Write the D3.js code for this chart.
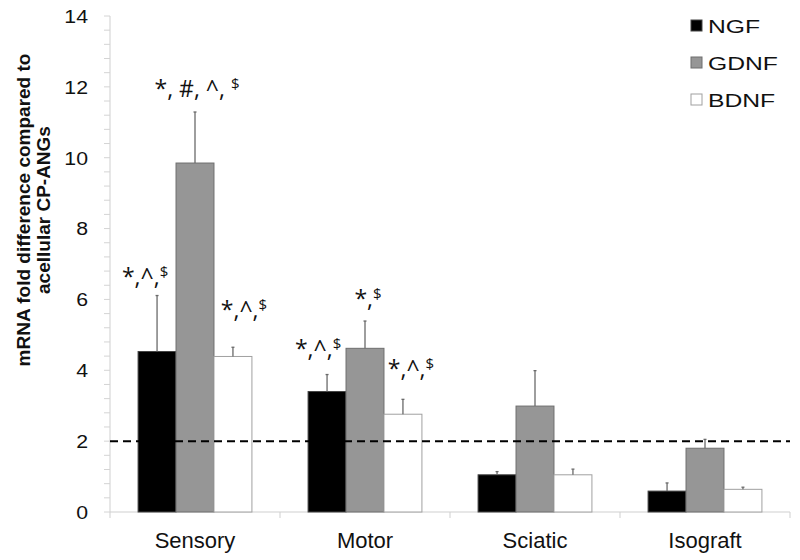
<!DOCTYPE html>
<html>
<head>
<meta charset="utf-8">
<script src="https://cdn.jsdelivr.net/npm/d3@7"></script>
<style>
  body { margin: 0; background: #fff; }
  svg { display: block; }
</style>
</head>
<body>
<script>
// data
var categories = ["Sensory", "Motor", "Sciatic", "Isograft"];
var series = ["NGF", "GDNF", "BDNF"];
var ngfValues  = [4.53, 3.40, 1.05, 0.59];
var gdnfValues = [9.85, 4.62, 2.99, 1.80];
var bdnfValues = [4.39, 2.76, 1.05, 0.64];
var ngfErr  = [1.58, 0.48, 0.09, 0.23];
var gdnfErr = [1.44, 0.77, 1.00, 0.25];
var bdnfErr = [0.26, 0.42, 0.16, 0.06];
var yTicks = [0, 2, 4, 6, 8, 10, 12, 14];
var threshold = 2;
// significance labels: [main text, superscript]
var notes = [
    [["*,^,", "$"], ["*, #, ^, ", "$"], ["*,^,", "$"]],
    [["*,^,", "$"], ["*,", "$"], ["*,^,", "$"]],
    [null, null, null],
    [null, null, null]
];

var width = 800, height = 560;
var margin = {top: 16, right: 10, bottom: 48, left: 110};

var svg = d3.select("body").append("svg")
    .attr("width", width)
    .attr("height", height);

var x0 = d3.scaleBand()
    .domain(categories)
    .range([margin.left, 790])
    .paddingInner(0)
    .paddingOuter(0);

var x1 = d3.scaleBand()
    .domain(series)
    .range([0, x0.bandwidth()])
    .paddingOuter(0.74)
    .paddingInner(0);

var y = d3.scaleLinear()
    .domain([0, 14])
    .range([512, margin.top]);

var fills = {NGF: "#000000", GDNF: "#969696", BDNF: "#ffffff"};
var strokes = {NGF: "#444444", GDNF: "#6e6e6e", BDNF: "#a0a0a0"};
var vals = {NGF: ngfValues, GDNF: gdnfValues, BDNF: bdnfValues};
var errs = {NGF: ngfErr, GDNF: gdnfErr, BDNF: bdnfErr};

// y axis with minor ticks
var yAxis = svg.append("g")
    .attr("transform", "translate(" + margin.left + ",0)");
yAxis.append("line")
    .attr("x1", 0).attr("x2", 0)
    .attr("y1", y(0)).attr("y2", y(14))
    .attr("stroke", "#cfcfcf");
yAxis.selectAll(".minor")
    .data(d3.range(0, 14.01, 0.4))
    .enter().append("line")
    .attr("x1", -6).attr("x2", 0)
    .attr("y1", function(d) { return y(d); })
    .attr("y2", function(d) { return y(d); })
    .attr("stroke", "#d4d4d4");
yAxis.selectAll(".lbl")
    .data(yTicks)
    .enter().append("text")
    .attr("transform", function(d) { return "translate(-22," + y(d) + ") scale(1.12,1)"; })
    .attr("dy", "0.36em")
    .attr("text-anchor", "end")
    .attr("font-family", "Liberation Sans, Arial, sans-serif")
    .attr("font-size", 19)
    .attr("fill", "#111")
    .text(function(d) { return d; });

// x axis
svg.append("line")
    .attr("x1", margin.left).attr("x2", 790)
    .attr("y1", y(0)).attr("y2", y(0))
    .attr("stroke", "#cfcfcf");
svg.selectAll(".xtick")
    .data(categories.concat(["end"]))
    .enter().append("line")
    .attr("x1", function(d, i) { return margin.left + i * x0.bandwidth(); })
    .attr("x2", function(d, i) { return margin.left + i * x0.bandwidth(); })
    .attr("y1", y(0)).attr("y2", y(0) + 6)
    .attr("stroke", "#cfcfcf");
svg.selectAll(".xlbl")
    .data(categories)
    .enter().append("text")
    .attr("x", function(d) { return x0(d) + x0.bandwidth() / 2; })
    .attr("y", 548)
    .attr("text-anchor", "middle")
    .attr("font-family", "Liberation Sans, Arial, sans-serif")
    .attr("font-size", 22)
    .attr("fill", "#111")
    .text(function(d) { return d; });

// bars
var groups = svg.selectAll(".grp")
    .data(categories)
    .enter().append("g")
    .attr("transform", function(d) { return "translate(" + x0(d) + ",0)"; });

groups.each(function(cat, ci) {
    var g = d3.select(this);
    var rows = series.map(function(s) {
        return {s: s, v: vals[s][ci], e: errs[s][ci]};
    });
    g.selectAll("rect")
        .data(rows)
        .enter().append("rect")
        .attr("x", function(d) { return x1(d.s); })
        .attr("y", function(d) { return y(d.v); })
        .attr("width", x1.bandwidth())
        .attr("height", function(d) { return y(0) - y(d.v); })
        .attr("fill", function(d) { return fills[d.s]; })
        .attr("stroke", function(d) { return strokes[d.s]; })
        .attr("stroke-width", 1);
    g.selectAll(".err")
        .data(rows)
        .enter().append("line")
        .attr("x1", function(d) { return x1(d.s) + x1.bandwidth() / 2; })
        .attr("x2", function(d) { return x1(d.s) + x1.bandwidth() / 2; })
        .attr("y1", function(d) { return y(d.v); })
        .attr("y2", function(d) { return y(d.v + d.e); })
        .attr("stroke", "#6a6a6a")
        .attr("stroke-width", 1.3);
    g.selectAll(".cap")
        .data(rows)
        .enter().append("line")
        .attr("x1", function(d) { return x1(d.s) + x1.bandwidth() / 2 - 1.5; })
        .attr("x2", function(d) { return x1(d.s) + x1.bandwidth() / 2 + 1.5; })
        .attr("y1", function(d) { return y(d.v + d.e); })
        .attr("y2", function(d) { return y(d.v + d.e); })
        .attr("stroke", "#6a6a6a")
        .attr("stroke-width", 1.3);
});

// threshold line
svg.append("line")
    .attr("x1", margin.left).attr("x2", 790)
    .attr("y1", y(threshold)).attr("y2", y(threshold))
    .attr("stroke", "#000")
    .attr("stroke-width", 2)
    .attr("stroke-dasharray", "8,5");

// significance notes: offsets from the top of each error bar
var noteOffsets = {
    "0-0": {dx: -12, dy: -11}, "0-1": {dx: 2, dy: -15}, "0-2": {dx: 11, dy: -29},
    "1-0": {dx: -9, dy: -18}, "1-1": {dx: 3, dy: -14}, "1-2": {dx: 8, dy: -22}
};
categories.forEach(function(cat, ci) {
    series.forEach(function(s, si) {
        var n = notes[ci][si];
        if (!n) return;
        var off = noteOffsets[ci + "-" + si];
        var cx = x0(cat) + x1(s) + x1.bandwidth() / 2 + off.dx;
        var t = svg.append("text")
            .attr("x", cx)
            .attr("y", y(vals[s][ci] + errs[s][ci]) + off.dy)
            .attr("text-anchor", "middle")
            .attr("font-family", "Open Sans, DejaVu Sans, sans-serif")
            .attr("font-size", 23)
            .attr("fill", "#111");
        t.append("tspan").text(n[0]);
        t.append("tspan")
            .attr("font-size", 15)
            .attr("dy", -8)
            .text(n[1]);
    });
});

// legend
var legend = svg.append("g")
    .attr("transform", "translate(691,20)");
legend.selectAll("rect")
    .data(series)
    .enter().append("rect")
    .attr("x", 0)
    .attr("y", function(d, i) { return i * 37; })
    .attr("width", 11).attr("height", 11)
    .attr("fill", function(d) { return fills[d]; })
    .attr("stroke", function(d) { return strokes[d]; });
legend.selectAll("text")
    .data(series)
    .enter().append("text")
    .attr("transform", function(d, i) { return "translate(17," + (i * 37 + 13) + ") scale(1.3,1)"; })
    .attr("font-family", "Liberation Sans, Arial, sans-serif")
    .attr("font-size", 19)
    .attr("fill", "#111")
    .text(function(d) { return d; });

// y axis title
var title = svg.append("text")
    .attr("transform", "translate(0,210) rotate(-90)")
    .attr("text-anchor", "middle")
    .attr("font-family", "Liberation Sans, Arial, sans-serif")
    .attr("font-weight", "bold")
    .attr("font-size", 19)
    .attr("fill", "#111");
title.append("tspan").attr("x", 0).attr("y", 30).text("mRNA fold difference compared to");
title.append("tspan").attr("x", 0).attr("y", 50).text("acellular CP-ANGs");
</script>
</body>
</html>
